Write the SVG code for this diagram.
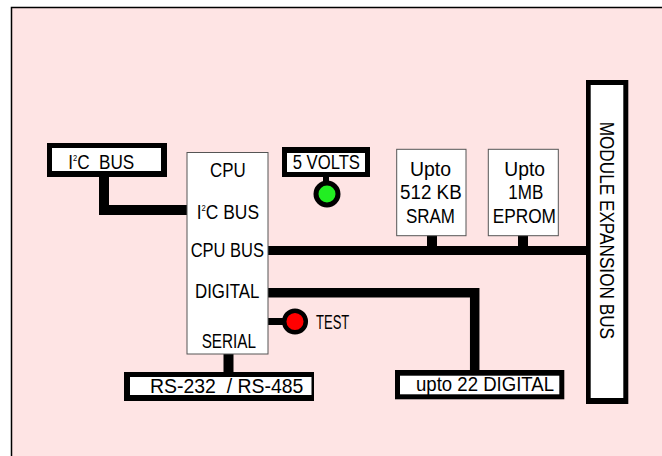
<svg xmlns="http://www.w3.org/2000/svg" width="662" height="456" viewBox="0 0 662 456" xml:space="preserve">
<style>
.t{font-family:"Liberation Sans",Arial,sans-serif;font-size:20.5px;fill:#000;white-space:pre}
.sup{font-size:9px}
.box{fill:#fff;stroke:#555;stroke-width:1}
.blk{fill:#000}
.wht{fill:#fff}
.w{fill:none;stroke:#000;stroke-linejoin:miter;stroke-linecap:butt}
</style>
<rect x="0" y="0" width="662" height="456" fill="#fff"/>
<rect x="11" y="8" width="651" height="448" fill="#fee4e4"/>
<path d="M11.5,456 V7.5 H662" fill="none" stroke="#000" stroke-width="1.5"/>
<g id="connectors">
<path class="w" d="M104,177 V210 H187" stroke-width="10"/>
<path class="w" d="M268,250.5 H587" stroke-width="9"/>
<path class="w" d="M432,235 V250" stroke-width="10"/>
<path class="w" d="M523,235 V250" stroke-width="10"/>
<path class="w" d="M268,292.7 H474.7 V371" stroke-width="9.5"/>
<path class="w" d="M268,321.5 H284" stroke-width="7"/>
<path class="w" d="M228.5,354 V373" stroke-width="10"/>
<path class="w" d="M326,176 V182" stroke-width="6"/>
</g>
<g id="i2c-bus">
<rect class="blk" x="47" y="143" width="120" height="34"/>
<rect class="wht" x="52" y="148" width="109" height="23"/>
<text class="t" x="68.3" y="168.5" textLength="66" lengthAdjust="spacingAndGlyphs">I<tspan class="sup" dy="-8">2</tspan><tspan dy="8">C  BUS</tspan></text>
</g>
<g id="cpu">
<rect class="box" x="187" y="152.5" width="81" height="201.5"/>
<text class="t" x="210" y="176.7" textLength="35.7" lengthAdjust="spacingAndGlyphs">CPU</text>
<text class="t" x="196.7" y="219.3" textLength="62.3" lengthAdjust="spacingAndGlyphs">I<tspan class="sup" dy="-8">2</tspan><tspan dy="8">C BUS</tspan></text>
<text class="t" x="190.7" y="256.5" textLength="73.3" lengthAdjust="spacingAndGlyphs">CPU BUS</text>
<text class="t" x="195" y="298.3" textLength="64.3" lengthAdjust="spacingAndGlyphs">DIGITAL</text>
<text class="t" x="201.7" y="347.7" textLength="54.3" lengthAdjust="spacingAndGlyphs">SERIAL</text>
</g>
<g id="five-volts">
<rect class="blk" x="282" y="147" width="88" height="30"/>
<rect class="wht" x="287" y="153" width="78" height="19"/>
<text class="t" x="292.7" y="169.3" textLength="67.3" lengthAdjust="spacingAndGlyphs">5 VOLTS</text>
</g>
<g id="led-green">
<circle cx="327" cy="194" r="11" fill="#22ee22" stroke="#000" stroke-width="5"/>
</g>
<g id="led-test">
<circle cx="295" cy="321.5" r="10.8" fill="#ff0000" stroke="#000" stroke-width="4.5"/>
<text class="t" x="316" y="329.3" textLength="33.3" lengthAdjust="spacingAndGlyphs">TEST</text>
</g>
<g id="sram">
<rect class="box" x="396.7" y="149.3" width="69.3" height="86.4"/>
<text class="t" x="410" y="175.5" textLength="41" lengthAdjust="spacingAndGlyphs">Upto</text>
<text class="t" x="400" y="199.3" textLength="61.7" lengthAdjust="spacingAndGlyphs">512 KB</text>
<text class="t" x="406" y="223.3" textLength="49" lengthAdjust="spacingAndGlyphs">SRAM</text>
</g>
<g id="eprom">
<rect class="box" x="488.3" y="149.3" width="70" height="86.4"/>
<text class="t" x="504.3" y="175.5" textLength="40.7" lengthAdjust="spacingAndGlyphs">Upto</text>
<text class="t" x="508.3" y="199.3" textLength="35" lengthAdjust="spacingAndGlyphs">1MB</text>
<text class="t" x="492.7" y="223.3" textLength="63.3" lengthAdjust="spacingAndGlyphs">EPROM</text>
</g>
<g id="module-expansion-bus">
<rect class="blk" x="586" y="80" width="42.3" height="324"/>
<rect class="wht" x="590.7" y="85" width="32.6" height="313"/>
<text class="t" transform="translate(599.5,121.7) rotate(90)" x="0" y="0" textLength="217.3" lengthAdjust="spacingAndGlyphs">MODULE EXPANSION BUS</text>
</g>
<g id="rs232">
<rect class="blk" x="124" y="372" width="190" height="29"/>
<rect class="wht" x="130" y="377" width="181.5" height="18"/>
<text class="t" x="150" y="393.3" textLength="153.3" lengthAdjust="spacingAndGlyphs">RS-232  / RS-485</text>
</g>
<g id="digital-out">
<rect class="blk" x="395" y="370" width="169.3" height="29.3"/>
<rect class="wht" x="400" y="375.7" width="159.3" height="18.6"/>
<text class="t" x="416" y="391" textLength="138" lengthAdjust="spacingAndGlyphs">upto 22 DIGITAL</text>
</g>
</svg>
